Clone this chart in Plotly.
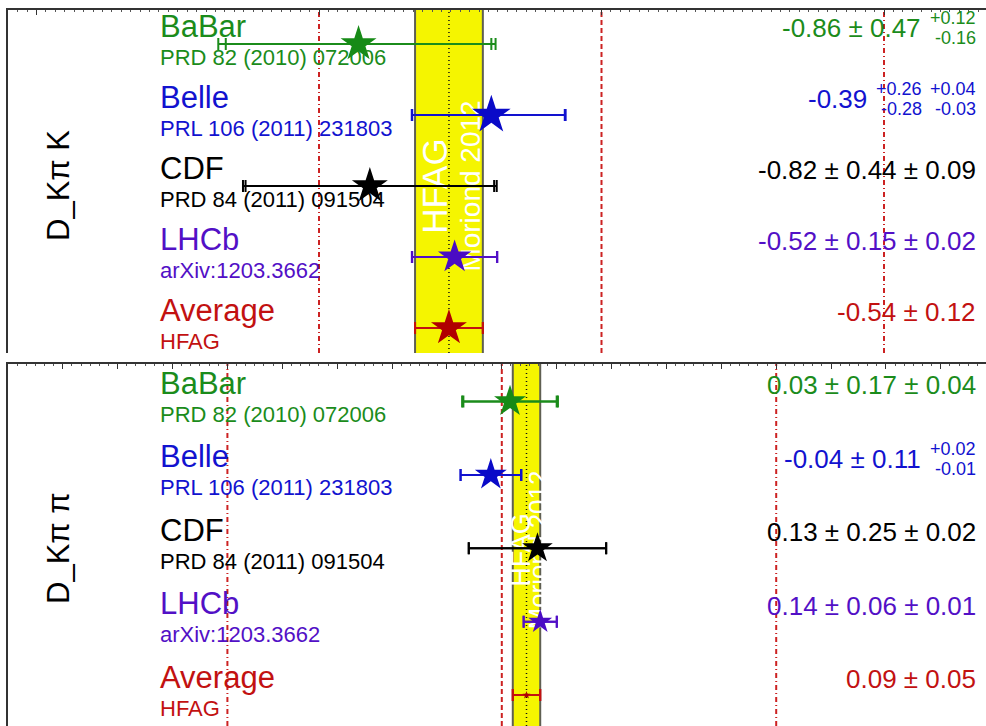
import math
import plotly.graph_objects as go

W, H = 986, 726

# ---------------------------------------------------------------- data
experiments = ["BaBar", "Belle", "CDF", "LHCb", "Average"]
references = ["PRD 82 (2010) 072006", "PRL 106 (2011) 231803",
              "PRD 84 (2011) 091504", "arXiv:1203.3662", "HFAG"]

# D_Kπ K
kpk_central = [-0.86, -0.39, -0.82, -0.52, -0.54]
kpk_stat_hi = [0.47, 0.26, 0.44, 0.15, 0.12]
kpk_stat_lo = [0.47, 0.28, 0.44, 0.15, 0.12]
kpk_syst_hi = [0.12, 0.04, 0.09, 0.02, None]
kpk_syst_lo = [0.16, 0.03, 0.09, 0.02, None]

# D_Kπ π
kpp_central = [0.03, -0.04, 0.13, 0.14, 0.09]
kpp_stat_hi = [0.17, 0.11, 0.25, 0.06, 0.05]
kpp_stat_lo = [0.17, 0.11, 0.25, 0.06, 0.05]
kpp_syst_hi = [0.04, 0.02, 0.02, 0.01, None]
kpp_syst_lo = [0.04, 0.01, 0.02, 0.01, None]

# vertical reference lines (value, dash style)
ref_lines = [(-1.0, "5px,3px,1px,3px"), (0.0, "5px,3px"), (1.0, "5px,3px,1px,3px")]

watermark_title = "HFAG"
watermark_sub = "Moriond 2012"

# ---------------------------------------------------------------- styles
FONT = "Liberation Sans, Arial, Helvetica, sans-serif"
colors = ["#1b8c1b", "#1212cf", "#000000", "#5210c6", "#c21111"]
star_colors = ["#168a16", "#0a0ac8", "#000000", "#4a0cc4", "#b00000"]
FRAME = "#333333"
BAND = "#f5f500"
REDLINE = "#cc2222"

panels = [
    dict(label="D_Kπ K", central=kpk_central,
         stat_hi=kpk_stat_hi, stat_lo=kpk_stat_lo,
         syst_hi=kpk_syst_hi, syst_lo=kpk_syst_lo,
         top=10, bottom=353, row0=44, step=71,
         zero_px=601.5, scale=282.5, dtick=1.0,
         star_sizes=[27, 29, 27, 25, 27],
         wm=dict(t_shift=-17, t_size=35, s_shift=19, s_size=28, y=186),
         label_y=186),
    dict(label="D_Kπ π", central=kpp_central,
         stat_hi=kpp_stat_hi, stat_lo=kpp_stat_lo,
         syst_hi=kpp_syst_hi, syst_lo=kpp_syst_lo,
         top=364, bottom=726, row0=401.5, step=73.4,
         zero_px=501.8, scale=274.4, dtick=0.2,
         star_sizes=[24, 24, 23, 18, 6],
         wm=dict(t_shift=-9, t_size=27, s_shift=9, s_size=26, y=550),
         label_y=548),
]

X_LEFT, X_RIGHT = 8, W
LABEL_X = 158
VALUE_RIGHT = 978


def px(x):
    return x / W


def py(y):
    return 1 - y / H


def quad(a, b):
    return a if b is None else math.sqrt(a * a + b * b)


def watermark(text, xa, center, shift, scale, y, size):
    # invisible box carrying a rotated label, kept beneath the data layer
    return dict(type="rect", layer="below", xref=xa, yref="paper",
                x0=center + (shift - 20) / scale, x1=center + (shift + 20) / scale,
                y0=py(y + 160), y1=py(y - 160),
                fillcolor="rgba(0,0,0,0)", line=dict(width=0),
                label=dict(text=text, textangle=-90, textposition="middle center",
                           font=dict(family=FONT, size=size, color="white")))


fig = go.Figure()
shapes, annotations = [], []
layout_axes = {}

for k, p in enumerate(panels):
    sfx = "" if k == 0 else str(k + 1)
    xa, ya = "x" + sfx, "y" + sfx
    n = len(experiments)
    rows = list(range(n))

    xr = [(X_LEFT - p["zero_px"]) / p["scale"], (X_RIGHT - p["zero_px"]) / p["scale"]]
    yr = [(p["bottom"] - p["row0"]) / p["step"], (p["top"] - p["row0"]) / p["step"]]

    layout_axes["xaxis" + sfx] = dict(
        domain=[px(X_LEFT), 1], range=xr, anchor=ya, side="top",
        showline=True, linecolor=FRAME, linewidth=1.5, mirror=False,
        ticks="inside", ticklen=5, tickwidth=1.2, tickcolor=FRAME,
        tick0=0, dtick=p["dtick"], showticklabels=False,
        minor=dict(ticks="inside", ticklen=2, dtick=1 / 30, tickcolor="#555555", tickwidth=1),
        showgrid=False, zeroline=False, fixedrange=True)
    layout_axes["yaxis" + sfx] = dict(
        domain=[py(p["bottom"]), py(p["top"])], range=yr, anchor=xa,
        showline=True, linecolor=FRAME, linewidth=1.5, mirror=False,
        ticks="", showticklabels=False, showgrid=False, zeroline=False,
        fixedrange=True)

    # average band
    avg = p["central"][-1]
    err = p["stat_hi"][-1]
    shapes.append(dict(type="rect", xref=xa, yref=ya + " domain",
                       x0=avg - err, x1=avg + err, y0=0, y1=1,
                       fillcolor=BAND, line=dict(width=0), layer="below"))
    for edge in (avg - err, avg + err):
        shapes.append(dict(type="line", xref=xa, yref=ya + " domain",
                           x0=edge, x1=edge, y0=0, y1=1,
                           line=dict(color="#5f5f52", width=2), layer="below"))
    shapes.append(dict(type="line", xref=xa, yref=ya + " domain",
                       x0=avg, x1=avg, y0=0, y1=1,
                       line=dict(color="#111111", width=1.5, dash="1px,3px"),
                       layer="below"))
    for v, dash in ref_lines:
        shapes.append(dict(type="line", xref=xa, yref=ya + " domain",
                           x0=v, x1=v, y0=0, y1=1,
                           line=dict(color=REDLINE, width=2, dash=dash),
                           layer="below"))

    # watermark
    wm = p["wm"]
    shapes.append(watermark(watermark_title, xa, avg, wm["t_shift"], p["scale"],
                            wm["y"], wm["t_size"]))
    shapes.append(watermark(watermark_sub, xa, avg, wm["s_shift"], p["scale"],
                            wm["y"], wm["s_size"]))

    # measurements
    for i in rows:
        c = p["central"][i]
        sh, sl = p["stat_hi"][i], p["stat_lo"][i]
        yh, yl = p["syst_hi"][i], p["syst_lo"][i]
        th, tl = quad(sh, yh), quad(sl, yl)
        col = colors[i]
        # total error
        fig.add_trace(go.Scatter(
            x=[c], y=[i], xaxis=xa, yaxis=ya, mode="markers",
            marker=dict(size=1, color="rgba(0,0,0,0)"),
            error_x=dict(type="data", symmetric=False, array=[th], arrayminus=[tl],
                         color=col, thickness=2, width=6),
            hoverinfo="skip", showlegend=False))
        # statistical error + central value
        fig.add_trace(go.Scatter(
            x=[c], y=[i], xaxis=xa, yaxis=ya, mode="markers",
            marker=dict(symbol="star", size=p["star_sizes"][i], color=star_colors[i],
                        line=dict(width=0)),
            error_x=dict(type="data", symmetric=False, array=[sh], arrayminus=[sl],
                         color=col, thickness=2, width=6),
            name=experiments[i], showlegend=False))

        # labels on the left
        annotations.append(dict(text=experiments[i], xref="paper", yref=ya,
                                x=px(LABEL_X), y=i, xanchor="left", yanchor="middle",
                                yshift=18, showarrow=False,
                                font=dict(family=FONT, size=31, color=col)))
        annotations.append(dict(text=references[i], xref="paper", yref=ya,
                                x=px(LABEL_X), y=i, xanchor="left", yanchor="middle",
                                yshift=-13, showarrow=False,
                                font=dict(family=FONT, size=22, color=col)))

        # value text on the right
        main = f"{c:.2f}"
        pairs = []
        if sh == sl:
            main += f" ± {sh:.2f}"
        else:
            pairs.append((sh, sl))
        if yh is not None:
            if yh == yl and not pairs:
                main += f" ± {yh:.2f}"
            else:
                pairs.append((yh, yl))
        right = VALUE_RIGHT
        for j, (hi, lo) in enumerate(reversed(pairs)):
            annotations.append(dict(text=f"+{hi:.2f}", xref="paper", yref=ya,
                                    x=px(right), y=i, xanchor="right", yanchor="middle",
                                    yshift=26, showarrow=False,
                                    font=dict(family=FONT, size=18, color=col)))
            annotations.append(dict(text=f"-{lo:.2f}", xref="paper", yref=ya,
                                    x=px(right), y=i, xanchor="right", yanchor="middle",
                                    yshift=6, showarrow=False,
                                    font=dict(family=FONT, size=18, color=col)))
            right -= 54
        main_right = VALUE_RIGHT if not pairs else right + 54 - 55
        annotations.append(dict(text=main, xref="paper", yref=ya,
                                x=px(main_right), y=i, xanchor="right", yanchor="middle",
                                yshift=16, showarrow=False,
                                font=dict(family=FONT, size=26, color=col)))

    # quantity label
    annotations.append(dict(text=p["label"], xref="paper", yref="paper",
                            x=px(58), y=py(p["label_y"]), textangle=-90,
                            xanchor="center", yanchor="middle",
                            showarrow=False,
                            font=dict(family=FONT, size=31, color="black")))

fig.update_layout(
    width=W, height=H, autosize=False,
    margin=dict(l=0, r=0, t=0, b=0),
    paper_bgcolor="white", plot_bgcolor="white",
    shapes=shapes, annotations=annotations, showlegend=False,
    **layout_axes)

fig.write_html("out.html")
